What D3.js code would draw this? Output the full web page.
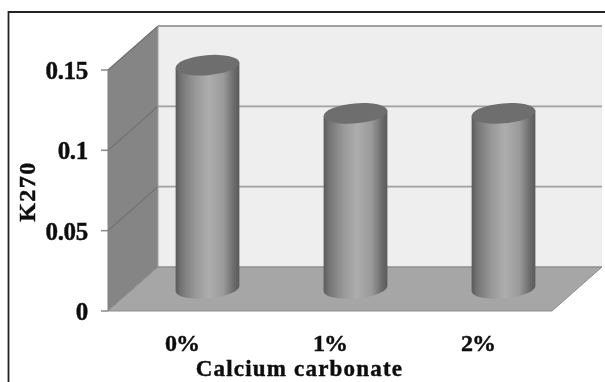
<!DOCTYPE html>
<html><head><meta charset="utf-8">
<script src="https://cdn.jsdelivr.net/npm/d3@7"></script>
<style>html,body{margin:0;padding:0;background:#fff;overflow:hidden}svg{display:block}text{font-family:"Liberation Serif",serif;font-weight:bold;fill:#111;stroke:#111;stroke-width:0.45px}</style>
</head><body>
<script>
const categories = ["0%","1%","2%"];
const values = [0.139,0.109,0.109];
const tickValues = [0,0.05,0.1,0.15];
const tickLabels = ["0","0.05","0.1","0.15"];
const xTitle = "Calcium carbonate";
const yTitle = "K270";

const W=605,H=382;
const pLeft=108,pRight=552,pBottom=311,pTop=70,dx=50,dy=44;
const x=d3.scaleBand().domain(categories).range([pLeft,pRight]);
const y=d3.scaleLinear().domain([0,0.15]).range([pBottom,pTop]);
const svg=d3.select("body").append("svg").attr("width",W).attr("height",H);
const defs=svg.append("defs");
defs.append("filter").attr("id","soft").attr("filterUnits","userSpaceOnUse").attr("x",0).attr("y",0).attr("width",W).attr("height",H)
  .append("feGaussianBlur").attr("stdDeviation",0.7);
const g=defs.append("linearGradient").attr("id","cyl");
[[0,"#5a5a5a"],[0.08,"#737373"],[0.3,"#979797"],[0.52,"#adadad"],[0.75,"#9a9a9a"],[0.92,"#6a6a6a"],[1,"#5a5a5a"]]
  .forEach(([o,c])=>g.append("stop").attr("offset",o).attr("stop-color",c));

const root=svg.append("g").attr("filter","url(#soft)");
root.append("path").attr("d",`M8.5,${H}V12H${W}`).attr("fill","none").attr("stroke","#222").attr("stroke-width",1.8);

// back wall, side wall, floor
const b0=y(0),b1=y(0.15);
root.append("path").attr("d",`M${pLeft+dx},${b1-dy}H${pRight+dx}V${b0-dy}H${pLeft+dx}Z`).attr("fill","#eeeeee");
root.append("path").attr("d",`M${pLeft},${b1}L${pLeft+dx},${b1-dy}V${b0-dy}L${pLeft},${b0}Z`).attr("fill","#858585");
root.append("path").attr("d",`M${pLeft},${b0}L${pLeft+dx},${b0-dy}H${pRight+dx}L${pRight},${b0}Z`).attr("fill","#a6a6a6").attr("stroke","#8e8e8e").attr("stroke-width",1);

// gridlines and ticks
tickValues.forEach(v=>{
  const p=y(v);
  root.append("path").attr("d",`M${pLeft-7},${p}H${pLeft}`).attr("fill","none").attr("stroke","#888").attr("stroke-width",1.5);
  if(v>0) root.append("path").attr("d",`M${pLeft},${p}L${pLeft+dx},${p-dy}`).attr("fill","none").attr("stroke","#707070").attr("stroke-width",1.2);
  root.append("path").attr("d",`M${pLeft+dx},${p-dy}H${pRight+dx}`).attr("fill","none").attr("stroke",v===0?"#8e8e8e":"#a0a0a0").attr("stroke-width",v===0?1:1.8);
});
root.append("path").attr("d",`M${pLeft},${b0}V${b1}`).attr("fill","none").attr("stroke","#808080");
root.append("path").attr("d",`M${pLeft+dx},${b0-dy}V${b1-dy}`).attr("fill","none").attr("stroke","#a0a0a0");

// cylinders
const rx=32,ry=10,tilt=-5,cxOff=25.5,baseOff=22.5;
const rad=tilt*Math.PI/180, ex=rx*Math.cos(rad), ey=rx*Math.sin(rad);
categories.forEach((c,i)=>{
  const cx=x(c)+x.bandwidth()/2+cxOff, by=y(0)-baseOff, ty=y(values[i])-baseOff;
  root.append("path")
    .attr("d",`M${cx-ex},${ty-ey}L${cx-ex},${by-ey}A${rx},${ry} ${tilt} 0 0 ${cx+ex},${by+ey}L${cx+ex},${ty+ey}Z`)
    .attr("fill","url(#cyl)");
  root.append("ellipse").attr("cx",cx).attr("cy",ty).attr("rx",rx).attr("ry",ry)
    .attr("transform",`rotate(${tilt} ${cx} ${ty})`).attr("fill","#6e6e6e");
});

// text
const txt=root.append("g");
tickValues.forEach((v,i)=>{
  txt.append("text").attr("x",88).attr("y",y(v)+9).attr("text-anchor","end").attr("font-size",25).attr("letter-spacing",-0.3).text(tickLabels[i]);
});
categories.forEach(c=>{
  txt.append("text").attr("x",x(c)+x.bandwidth()/2).attr("y",351).attr("text-anchor","middle").attr("font-size",24).attr("letter-spacing",-1).text(c);
});
txt.append("text").attr("x",299.5).attr("y",376).attr("text-anchor","middle").attr("font-size",23).attr("letter-spacing",1.2).text(xTitle);
txt.append("text").attr("transform","translate(35,191.5) rotate(-90)").attr("text-anchor","middle").attr("font-size",24).attr("letter-spacing",1.5).text(yTitle);
</script>
</body></html>
